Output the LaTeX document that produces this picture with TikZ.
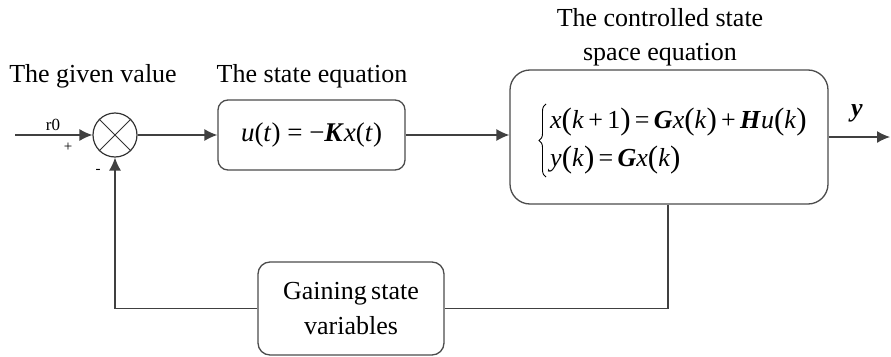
\documentclass[tikz,border=0pt]{standalone}
\usepackage{fontspec}
\setmainfont{Liberation Serif}
\newfontfamily\tmsfont{Liberation Serif}
\usetikzlibrary{arrows.meta,decorations.pathreplacing}
\newcommand\LP{{\fontsize{31}{31}\selectfont\raisebox{-1.5pt}{(}}}
\newcommand\RP{{\fontsize{31}{31}\selectfont\raisebox{-1.5pt}{)}}}
\tikzset{
  ln/.style={line width=1.3pt, draw=black!75},
  arr/.style={ln, -{Latex[length=13pt,width=12pt]}},
  blk/.style={draw=black!70, line width=1.3pt, inner sep=0pt, align=center},
  lbl/.style={inner sep=0pt, anchor=base, font=\tmsfont\fontsize{26}{33}\selectfont},
}
\begin{document}
\begin{tikzpicture}[x=1pt,y=-1pt]
\useasboundingbox (0,0) rectangle (891,356);
% labels
\node[lbl] (lgiven) at (93,82) {The given value};
\node[lbl] (lstate) at (312,82) {The state equation};
\node[lbl] (lctrl1) at (660,27) {The controlled state};
\node[lbl] (lctrl2) at (660,60) {space equation};
% summing junction
\node[draw=black!80, line width=1.2pt, circle, minimum size=44pt, inner sep=0pt] (sum) at (115,135) {};
\draw[line width=1pt, black!80] (sum.north west) -- (sum.south east) (sum.north east) -- (sum.south west);
% blocks
\node[blk, rounded corners=10pt, minimum width=187pt, minimum height=70pt,
      font=\tmsfont\fontsize{27}{33}\selectfont] (box1) at (311.5,135)
  {\textit{u}(\textit{t}) = −\textbf{\textit{K}}\textit{x}(\textit{t})};
\node[blk, rounded corners=20pt, minimum width=318pt, minimum height=134pt] (box2) at (669,137) {};
\node[blk, rounded corners=12pt, minimum width=186pt, minimum height=93pt,
      font=\tmsfont\fontsize{26}{35}\selectfont] (box3) at (351,308.5) {Gaining\,state\\variables};
% equations in box2
\coordinate (bracebot) at (546,177);
\coordinate (bracetop) at (546,104);
\draw[line width=0.9pt, decorate, decoration={brace, amplitude=7pt}] (bracebot) -- (bracetop);
\node[inner sep=0pt, anchor=base west, font=\tmsfont\fontsize{26}{30}\selectfont] (eq1) at (550,128)
  {\textit{x}\LP\textit{k}\,+\,1\RP\,=\,\textbf{\textit{G}}\textit{x}\LP\textit{k}\RP\,+\,\textbf{\textit{H}}\textit{u}\LP\textit{k}\RP};
\node[inner sep=0pt, anchor=base west, font=\tmsfont\fontsize{26}{30}\selectfont] (eq2) at (550,166)
  {\textit{y}\LP\textit{k}\RP\,=\,\textbf{\textit{G}}\textit{x}\LP\textit{k}\RP};
% signal labels
\node[inner sep=0pt, font=\tmsfont\fontsize{17}{17}\selectfont] (r0) at (53,125) {r0};
\node[inner sep=0pt, font=\tmsfont\fontsize{15}{15}\selectfont] (plus) at (68,147) {+};
\node[inner sep=0pt, font=\tmsfont\fontsize{15}{15}\selectfont] (minus) at (98,171) {-};
\node[inner sep=0pt, font=\tmsfont\fontsize{26}{26}\selectfont\bfseries\itshape] (ylab) at (857,113) {y};
% connectors
\coordinate (in) at (15,135);
\coordinate (out) at (890,137);
\coordinate (tap) at (668,204);
\draw[arr] (in) -- (sum.west);
\draw[arr] (sum.east) -- (box1.west);
\draw[arr] (box1.east) -- (box1.east -| box2.west);
\draw[arr] (box2.east) -- (out);
\draw[ln] (box2.south -| tap) |- (box3.east);
\draw[arr] (box3.west) -| (sum.south);
\end{tikzpicture}
\end{document}
